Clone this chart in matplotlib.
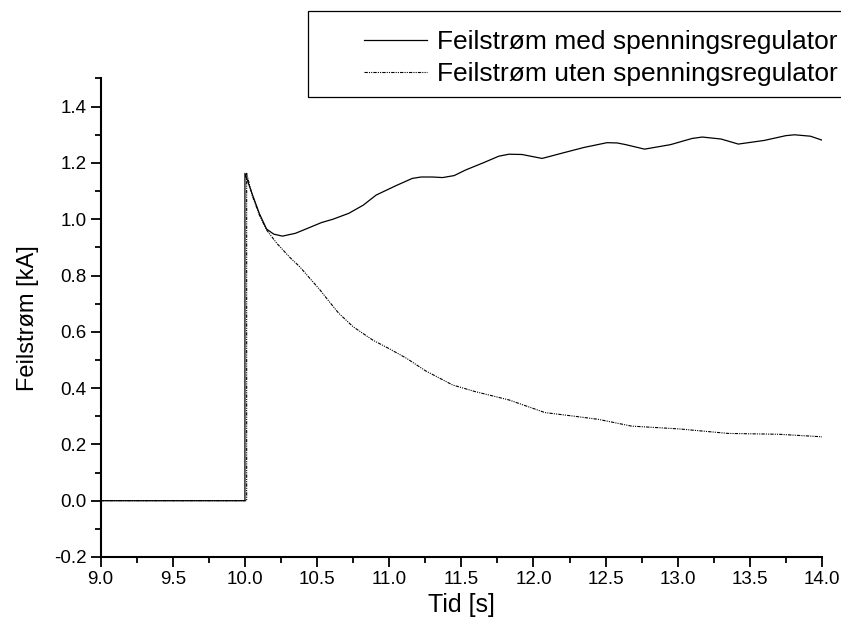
import matplotlib.pyplot as plt
from matplotlib.patches import Rectangle
from matplotlib.ticker import MultipleLocator, FormatStrFormatter

plt.rcParams['font.family'] = ['Liberation Sans', 'DejaVu Sans']
plt.rcParams['axes.unicode_minus'] = False

# Feilstrøm med spenningsregulator
t_med = [9.0, 10.0, 10.0, 10.05, 10.1, 10.15, 10.2, 10.26, 10.35, 10.45, 10.53,
         10.61, 10.72, 10.82, 10.91, 11.05, 11.16, 11.22, 11.3, 11.37, 11.45,
         11.53, 11.65, 11.76, 11.83, 11.92, 12.0, 12.06, 12.2, 12.35, 12.51,
         12.58, 12.64, 12.77, 12.95, 13.1, 13.17, 13.3, 13.42, 13.6, 13.75,
         13.81, 13.92, 14.0]
i_med = [0.0, 0.0, 1.163, 1.09, 1.02, 0.965, 0.947, 0.940, 0.950, 0.971, 0.988,
         1.0, 1.021, 1.05, 1.086, 1.12, 1.145, 1.150, 1.150, 1.148, 1.155,
         1.175, 1.20, 1.224, 1.231, 1.230, 1.222, 1.216, 1.235, 1.255, 1.272,
         1.271, 1.265, 1.249, 1.265, 1.287, 1.292, 1.285, 1.267, 1.280, 1.297,
         1.300, 1.295, 1.281]

# Feilstrøm uten spenningsregulator
t_uten = [9.0, 10.012, 10.012, 10.05, 10.1, 10.15, 10.22, 10.31, 10.38, 10.45,
          10.52, 10.58, 10.65, 10.75, 10.885, 11.0, 11.12, 11.25, 11.44, 11.6,
          11.83, 12.08, 12.27, 12.45, 12.68, 13.01, 13.35, 13.7, 14.0]
i_uten = [0.0, 0.0, 1.163, 1.085, 1.015, 0.962, 0.915, 0.865, 0.831, 0.79,
          0.749, 0.71, 0.666, 0.618, 0.571, 0.54, 0.506, 0.462, 0.411, 0.387,
          0.358, 0.313, 0.301, 0.289, 0.265, 0.255, 0.239, 0.236, 0.227]

labels = ['Feilstrøm med spenningsregulator', 'Feilstrøm uten spenningsregulator']

fig = plt.figure(figsize=(8.41, 6.31), dpi=100)
ax = fig.add_axes([0.1197, 0.1173, 0.8577, 0.7583])

l1, = ax.plot(t_med, i_med, color='black', lw=0.9)
l2, = ax.plot(t_uten, i_uten, color='black', lw=0.8,
              linestyle=(0, (3, 1, 1, 1, 1, 1)))

ax.set_xlim(9.0, 14.0)
ax.set_ylim(-0.2, 1.5)
ax.xaxis.set_major_locator(MultipleLocator(0.5))
ax.xaxis.set_minor_locator(MultipleLocator(0.25))
ax.yaxis.set_major_locator(MultipleLocator(0.2))
ax.yaxis.set_minor_locator(MultipleLocator(0.1))
ax.xaxis.set_major_formatter(FormatStrFormatter('%.1f'))
ax.yaxis.set_major_formatter(FormatStrFormatter('%.1f'))
ax.set_yticks([-0.2, 0.0, 0.2, 0.4, 0.6, 0.8, 1.0, 1.2, 1.4])

ax.spines['top'].set_visible(False)
ax.spines['right'].set_visible(False)
ax.spines['left'].set_linewidth(1.5)
ax.spines['bottom'].set_linewidth(1.5)
ax.tick_params(which='major', direction='out', length=7, width=1.3,
               labelsize=13.5, pad=3)
ax.tick_params(which='minor', direction='out', length=4, width=1.3)

ax.set_xlabel('Tid [s]', fontsize=18, labelpad=4)
ax.set_ylabel('Feilstrøm [kA]', fontsize=17, labelpad=11)

# legend box sticks out past the right edge of the figure
fig.patches.append(Rectangle((308 / 841, 1 - 97 / 631), 0.7, 86 / 631,
                             transform=fig.transFigure, fill=False,
                             edgecolor='black', lw=0.9))
fig.legend([l1, l2], labels, loc='upper left',
           bbox_to_anchor=(364 / 841, 1 - 30 / 631), frameon=False,
           fontsize=19, handlelength=2.4, handletextpad=0.35,
           labelspacing=0.3, borderaxespad=0, borderpad=0)

fig.savefig('out.png', dpi=100)
